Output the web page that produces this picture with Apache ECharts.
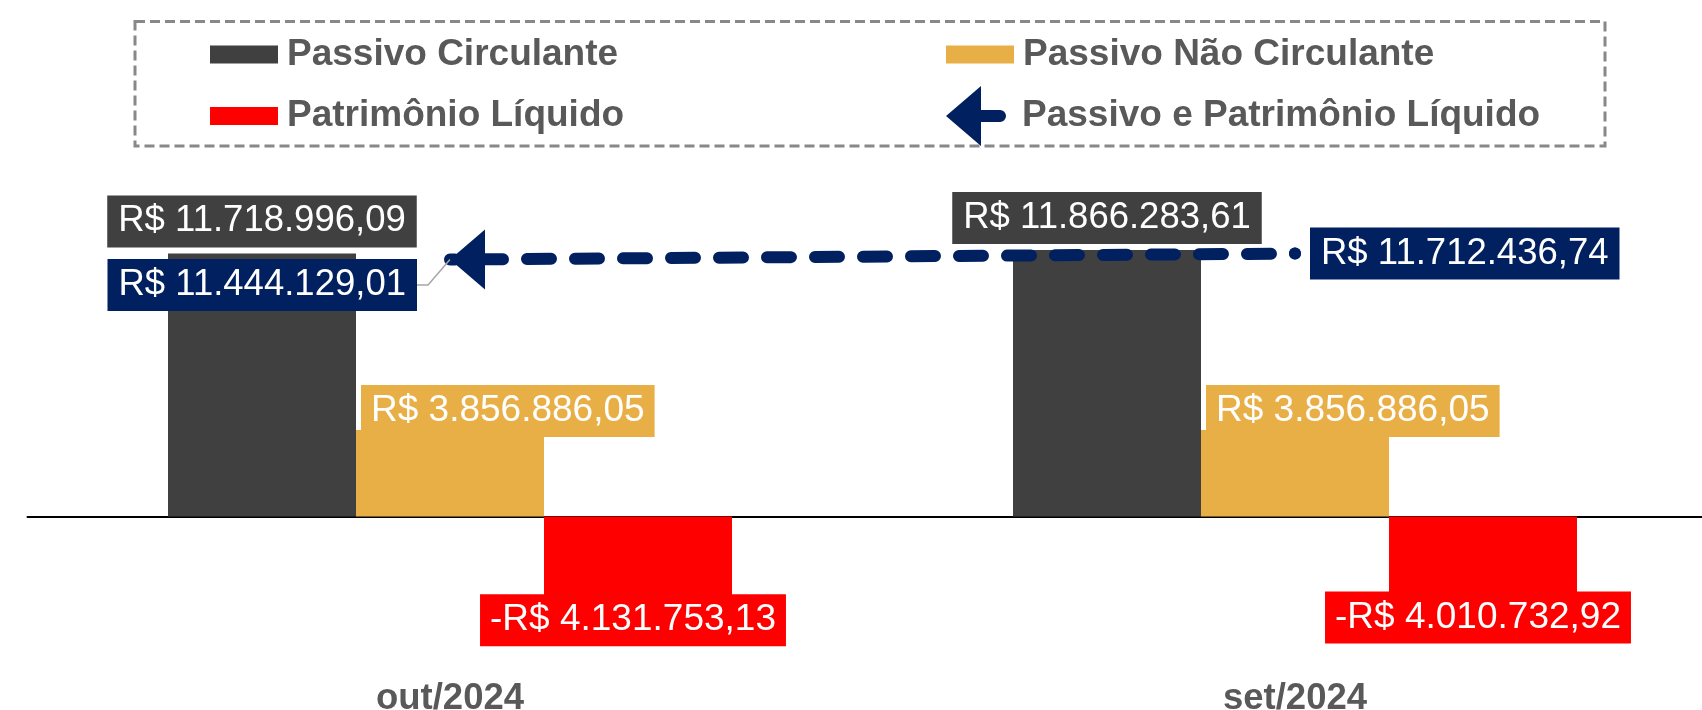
<!DOCTYPE html>
<html>
<head>
<meta charset="utf-8">
<script src="https://cdn.jsdelivr.net/npm/echarts@6/dist/echarts.min.js"></script>
<style>
  html, body { margin: 0; padding: 0; background: #fff; }
  #chart { width: 1702px; height: 710px; }
</style>
</head>
<body>
<div id="chart"></div>
<script>
const categories = ['out/2024', 'set/2024']
const passivoCirculante = [11718996.09, 11866283.61]
const passivoNaoCirculante = [3856886.05, 3856886.05]
const patrimonioLiquido = [-4131753.13, -4010732.92]
const passivoEPatrimonio = [11444129.01, 11712436.74]

const FONT = 'Arial, "Liberation Sans", sans-serif'
const NAVY = '#002060'
const ARROW = 'path://M0,30L35,0L35,60Z'
const ARROW_ICON = 'path://M0,30L35,0L35,24L54,24A6,6,0,0,1,54,36L35,36L35,60Z'

function brl(v) {
  const parts = Math.abs(v).toFixed(2).split('.')
  const int = parts[0].replace(/\B(?=(\d{3})+(?!\d))/g, '.')
  return (v < 0 ? '-' : '') + 'R$ ' + int + ',' + parts[1]
}

function boxLabel(bg, size, padX) {
  return {
    show: true,
    formatter: p => brl(p.value),
    color: '#fff',
    backgroundColor: bg,
    padding: [6, padX],
    fontFamily: FONT,
    fontSize: size,
    lineHeight: 40
  }
}

const legendText = {
  fontFamily: FONT,
  fontSize: 37,
  fontWeight: 'bold',
  color: '#595959',
  padding: [0, 0, 0, 4]
}

const chart = echarts.init(document.getElementById('chart'), null, { renderer: 'canvas' })

chart.setOption({
  animation: false,
  backgroundColor: '#fff',
  graphic: [{
    type: 'rect',
    shape: { x: 135, y: 21.5, width: 1470, height: 124.5 },
    style: { fill: 'none', stroke: '#888888', lineWidth: 3, lineDash: [10, 5] },
    silent: true
  }],
  legend: [{
    left: 210, top: 36, orient: 'vertical', padding: 0,
    itemWidth: 68, itemHeight: 18, itemGap: 24.5,
    selectedMode: false,
    icon: 'rect',
    textStyle: legendText,
    data: ['Passivo Circulante', 'Patrimônio Líquido']
  }, {
    left: 946, top: 36, orient: 'vertical', padding: 0,
    itemWidth: 68, itemHeight: 18,
    selectedMode: false,
    icon: 'rect',
    textStyle: legendText,
    data: ['Passivo Não Circulante']
  }, {
    left: 946, top: 86, orient: 'vertical', padding: 0,
    itemWidth: 60, itemHeight: 60,
    selectedMode: false,
    itemStyle: { borderWidth: 0 },
    textStyle: Object.assign({}, legendText, { padding: [0, 0, 0, 11] }),
    data: [{ name: 'Passivo e Patrimônio Líquido', icon: ARROW_ICON }]
  }],
  grid: {
    left: 27.5, right: -15.5, top: 157.3, bottom: 13.9,
    containLabel: false, outerBoundsMode: 'none'
  },
  xAxis: {
    type: 'category',
    data: categories,
    axisLine: { onZero: true, lineStyle: { color: '#000', width: 2 } },
    axisTick: { show: false },
    axisLabel: {
      margin: -16,
      fontFamily: FONT,
      fontSize: 36.5,
      fontWeight: 'bold',
      color: '#595959'
    },
    splitLine: { show: false }
  },
  yAxis: {
    type: 'value',
    min: -8000000,
    max: 16000000,
    show: false,
    splitLine: { show: false }
  },
  series: [{
    name: 'Passivo Circulante',
    type: 'bar',
    data: passivoCirculante,
    barWidth: 188,
    barGap: '0%',
    itemStyle: { color: '#404040' },
    label: Object.assign(boxLabel('#404040', 36.5, 11), { position: 'top', distance: 6 })
  }, {
    name: 'Passivo Não Circulante',
    type: 'bar',
    data: passivoNaoCirculante,
    barWidth: 188,
    barGap: '0%',
    itemStyle: { color: '#E9AF47' },
    label: Object.assign(boxLabel('#E9AF47', 37, 10), { position: [5, -45], align: 'left', verticalAlign: 'top' })
  }, {
    name: 'Patrimônio Líquido',
    type: 'bar',
    data: patrimonioLiquido,
    barWidth: 188,
    barGap: '0%',
    itemStyle: { color: '#FF0000' },
    label: Object.assign(boxLabel('#FF0000', 37, 10), { position: 'bottom', distance: 0, offset: [-5, -15] })
  }, {
    name: 'Passivo e Patrimônio Líquido',
    type: 'line',
    z: 5,
    data: [{
      value: passivoEPatrimonio[0],
      symbol: ARROW,
      symbolSize: [35, 60],
      symbolOffset: [17.5, 0],
      label: Object.assign(boxLabel(NAVY, 36.5, 11), { position: 'left', distance: 33 }),
      labelLine: { show: true, length2: 11, lineStyle: { color: '#A6A6A6', width: 1.5 } }
    }, {
      value: passivoEPatrimonio[1],
      symbol: 'circle',
      symbolSize: 12,
      label: Object.assign(boxLabel(NAVY, 36.5, 11), { position: 'right', distance: 9 })
    }],
    itemStyle: { color: NAVY, borderWidth: 0 },
    lineStyle: { color: NAVY, width: 12, type: [24, 24], dashOffset: 19, cap: 'round' },
    labelLayout: p => (p.dataIndex === 0 ? { dy: 25.5 } : {})
  }]
})
</script>
</body>
</html>
